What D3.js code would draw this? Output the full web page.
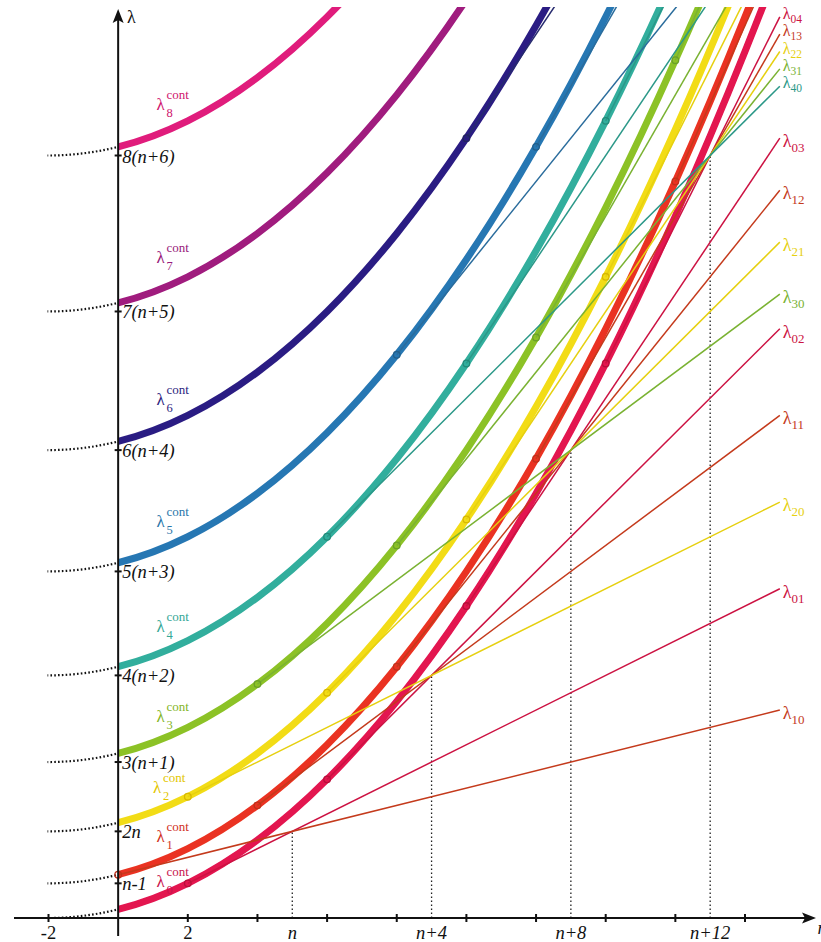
<!DOCTYPE html>
<html><head><meta charset="utf-8">
<script src="https://cdn.jsdelivr.net/npm/d3@7"></script>
<style>body{margin:0;background:#fff}svg{display:block}</style>
</head><body><svg id="c" width="821" height="942"></svg>
<script>
// ---------- data ----------
const xTickValues = [-2, 2, 4, 6, 8, 10, 12, 14, 16, 18];
const xTickLabelValues = [-2, 2, 5, 9, 13, 17];
const xTickLabelTexts = ["-2", "2", "n", "n+4", "n+8", "n+12"];
const yTickValues = [4, 10, 18, 28, 40, 54, 70, 88];
const yTickLabelTexts = ["n-1", "2n", "3(n+1)", "4(n+2)", "5(n+3)", "6(n+4)", "7(n+5)", "8(n+6)"];

const contIds = ["0", "1", "2", "3", "4", "5", "6", "7", "8"];
const contBase = [0, 4, 10, 18, 28, 40, 54, 70, 88];
const contSampleX = [-4, -2, 0, 2, 4, 6, 8, 10, 12, 14, 16, 18, 20, 22];
const contSampleRise = [1, 0, 1, 4, 9, 16, 25, 36, 49, 64, 81, 100, 121, 144];

const lineIds = ["01","02","03","04","10","11","12","13","14","20","21","22","23","30","31","32","33","40","41","42","50","51","60"];
const lineStartX = [2, 6, 10, 14, 0, 4, 8, 12, 16, 2, 6, 10, 14, 4, 8, 12, 16, 6, 10, 14, 8, 12, 10];
const lineStartLambda = [4, 16, 36, 64, 5, 13, 29, 53, 85, 14, 26, 46, 74, 27, 43, 67, 99, 44, 64, 92, 65, 89, 90];
const lineEndX = [19, 19, 19, 19, 19, 19, 19, 19, 19, 19, 19, 19, 19, 19, 19, 19, 19, 19, 19, 19, 19, 19, 19];
const lineEndLambda = [38, 68, 90, 104, 24, 58, 84, 102, 112, 48, 78, 100, 114, 72, 98, 116, 126, 96, 118, 132, 120, 138, 144];
const labeledLineIds = ["04","13","22","31","40","03","12","21","30","02","11","20","01","10"];
const topClusterIds = ["04","13","22","31","40"];

const crossingX = [5, 9, 13, 17];
const crossingLambda = [10, 28, 54, 88];

// ---------- styles ----------
const contColors = ["#e3134f","#ea3320","#f2dc16","#8cc226","#31ae9d","#2777b3","#2c1d83","#a01a7e","#e01b7c"];
const contLabelColors = ["#c8144e","#d0301c","#e3c600","#84b526","#35a796","#2a76aa","#2c1e80","#97197a","#cf146e"];
const familyColors = ["#cc1242","#c43a1c","#e6d010","#7ab232","#2b9888","#2a6c9c","#262a6e"];
const circleColors = ["#b80f3a","#c0301a","#d8b800","#6aa028","#238a7a","#215f8c","#22245e"];
const contLabelDy = [-31, -41, -38, -40, -43, -44, -45, -48, -46];
const FONT = "'Liberation Serif','Times New Roman',serif";

// ---------- scales ----------
const svg = d3.select("#c");
const x = d3.scaleLinear().domain([-2, 18]).range([48.5, 745]);
const y = d3.scaleLinear().domain([0, 88]).range([918, 155.5]);
const TOP = 7;

const defs = svg.append("defs");
defs.append("clipPath").attr("id", "clipSolid").append("rect")
  .attr("x", x(0)).attr("y", TOP).attr("width", 821 - x(0)).attr("height", 918 - TOP);
defs.append("clipPath").attr("id", "clipDot").append("rect")
  .attr("x", x(-2) - 1).attr("y", TOP).attr("width", x(0) - x(-2) + 1).attr("height", 930 - TOP);
defs.append("filter").attr("id", "soft").append("feGaussianBlur").attr("stdDeviation", 0.55);

const curveLine = d3.line().x(d => x(d[0])).y(d => y(d[1])).curve(d3.curveCatmullRom.alpha(0));
const contData = contBase.map(b => contSampleX.map((sx, i) => [sx, b + contSampleRise[i]]));

// dotted continuation (x<0)
svg.append("g").attr("clip-path", "url(#clipDot)")
  .selectAll("path").data(contData).join("path")
  .attr("d", curveLine).attr("fill", "none").attr("stroke", "#111")
  .attr("stroke-width", 2.2).attr("stroke-dasharray", "1.6,2.2");

// thick continuous curves
svg.append("g").attr("clip-path", "url(#clipSolid)")
  .selectAll("path").data(contData.map((d, i) => ({d, i})).reverse()).join("path")
  .attr("d", o => curveLine(o.d)).attr("fill", "none")
  .attr("stroke", o => contColors[o.i]).attr("stroke-width", 7)
  .attr("stroke-linecap", "butt").attr("filter", "url(#soft)");

// vertical dotted guides
svg.append("g").selectAll("line").data(crossingX).join("line")
  .attr("x1", d => x(d)).attr("x2", d => x(d))
  .attr("y1", y(0)).attr("y2", (d, i) => y(crossingLambda[i]))
  .attr("stroke", "#222").attr("stroke-width", 1.3).attr("stroke-dasharray", "1.5,2.5");

// tangent lines
const lines = lineIds.map((id, i) => ({id, fam: +id[0], x0: lineStartX[i], l0: lineStartLambda[i], x1: lineEndX[i], l1: lineEndLambda[i]}));
svg.append("g").attr("clip-path", "url(#clipSolid)")
  .selectAll("line").data(lines).join("line")
  .attr("x1", d => x(d.x0)).attr("y1", d => y(d.l0))
  .attr("x2", d => x(d.x1)).attr("y2", d => y(d.l1))
  .attr("stroke", d => familyColors[d.fam]).attr("stroke-width", 1.5);

// tangent circles
svg.append("g").selectAll("circle").data(lines).join("circle")
  .attr("cx", d => x(d.x0)).attr("cy", d => y(d.l0)).attr("r", 3.3)
  .attr("fill", "none").attr("stroke", d => circleColors[d.fam]).attr("stroke-width", 1.3);

// right-hand labels
const lab = svg.append("g").attr("font-family", FONT);
lines.filter(d => labeledLineIds.includes(d.id)).forEach(d => {
  const top = topClusterIds.includes(d.id);
  const px = x(d.x1) + 3;
  const py = y(d.l1) + (top ? 2 : 9);
  const t = lab.append("text").attr("x", px).attr("y", py).attr("fill", familyColors[d.fam]).attr("font-size", top ? 16 : 18);
  t.append("tspan").text("λ");
  t.append("tspan").attr("font-size", top ? 11.5 : 13).attr("dy", top ? 4 : 5).text(d.id);
});

// continuous curve labels
contIds.forEach((k, i) => {
  const px = i === 2 ? x(1.0) : x(1.1);
  const py = y(contBase[i]) + contLabelDy[i];
  const g = lab.append("g").attr("fill", contLabelColors[i]);
  g.append("text").attr("x", px).attr("y", py).attr("font-size", 17).text("λ");
  g.append("text").attr("x", px + 10).attr("y", py + 7).attr("font-size", 12.5).text(k);
  g.append("text").attr("x", px + 10).attr("y", py - 11).attr("font-size", 13).text("cont");
});

// ---------- axes ----------
const ax = svg.append("g").attr("font-family", FONT).attr("fill", "#111");
ax.append("line").attr("x1", 14).attr("x2", 808).attr("y1", y(0)).attr("y2", y(0)).attr("stroke", "#111").attr("stroke-width", 2);
ax.append("path").attr("d", `M816,${y(0)} L802,${y(0) - 5.5} L805,${y(0)} L802,${y(0) + 5.5} Z`).attr("fill", "#111");
ax.append("line").attr("x1", x(0)).attr("x2", x(0)).attr("y1", 936).attr("y2", 18).attr("stroke", "#111").attr("stroke-width", 2);
ax.append("path").attr("d", `M${x(0)},9 L${x(0) - 5.5},23 L${x(0)},20 L${x(0) + 5.5},23 Z`).attr("fill", "#111");
ax.append("text").attr("x", 127).attr("y", 23).attr("font-size", 18).text("λ");
ax.append("text").attr("x", 817.5).attr("y", 934).attr("font-size", 18).attr("font-style", "italic").text("r");

ax.selectAll("line.xt").data(xTickValues).join("line").attr("class", "xt")
  .attr("x1", d => x(d)).attr("x2", d => x(d)).attr("y1", y(0) - 4).attr("y2", y(0) + 4)
  .attr("stroke", "#111").attr("stroke-width", 2);
ax.selectAll("text.xl").data(xTickLabelValues).join("text").attr("class", "xl")
  .attr("x", d => x(d)).attr("y", 939).attr("text-anchor", "middle").attr("font-size", 18.5)
  .attr("font-style", (d, i) => /n/.test(xTickLabelTexts[i]) ? "italic" : "normal")
  .text((d, i) => xTickLabelTexts[i]);

ax.selectAll("line.yt").data(yTickValues).join("line").attr("class", "yt")
  .attr("x1", x(0) - 3.5).attr("x2", x(0) + 3.5).attr("y1", d => y(d)).attr("y2", d => y(d))
  .attr("stroke", "#111").attr("stroke-width", 2);
ax.selectAll("text.yl").data(yTickValues).join("text").attr("class", "yl")
  .attr("x", x(0) + 4).attr("y", d => y(d) + 7).attr("font-size", 18.5).attr("font-style", "italic")
  .text((d, i) => yTickLabelTexts[i]);
</script></body></html>
